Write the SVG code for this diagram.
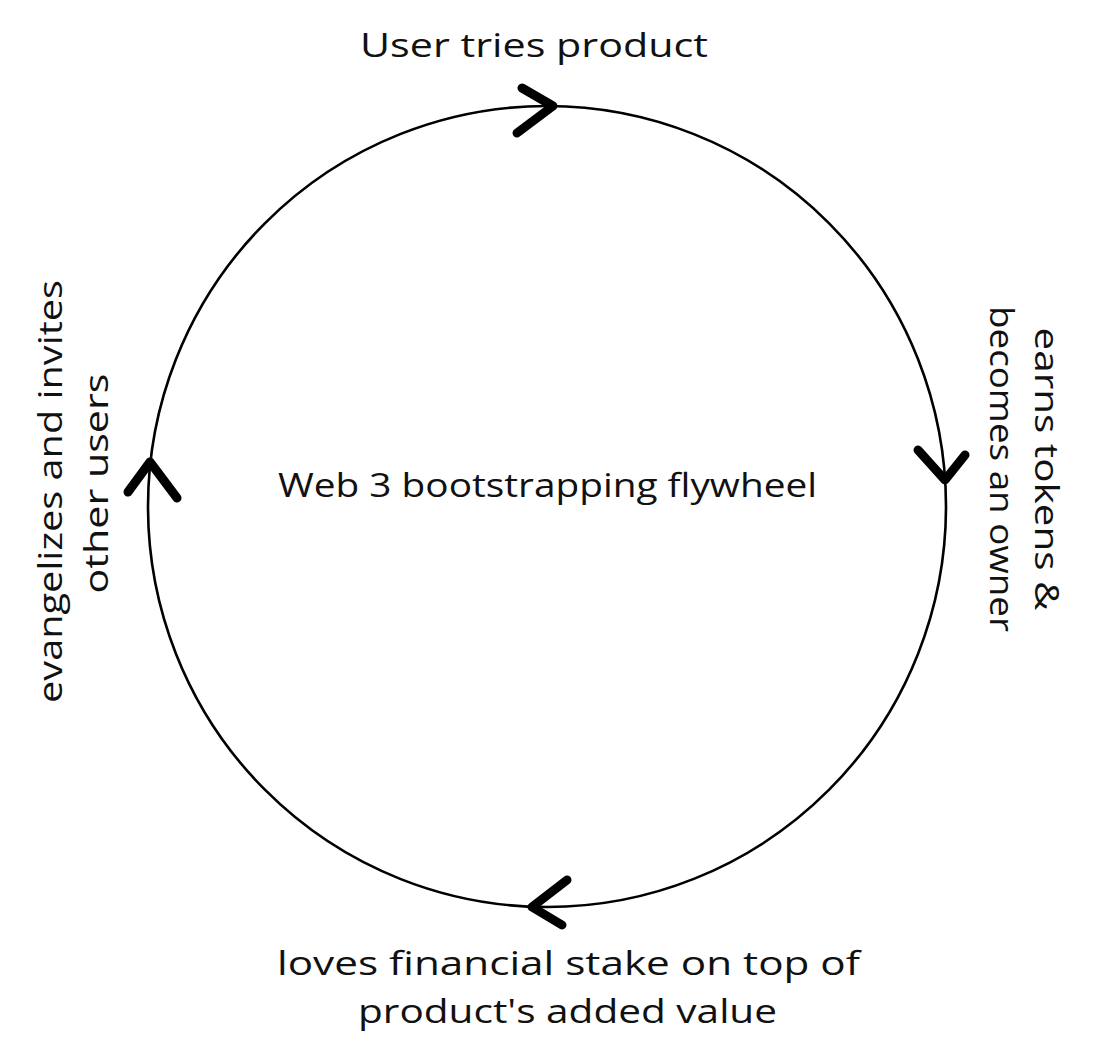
<svg xmlns="http://www.w3.org/2000/svg" width="1094" height="1055" viewBox="0 0 1094 1055">
<style>
.lbl{font-family:"Open Sans","Liberation Sans",sans-serif;font-size:32px;fill:#111111;text-anchor:middle}
.ring{fill:none;stroke:#000000;stroke-width:2.6}
.head{fill:none;stroke:#000000;stroke-width:9;stroke-linecap:round;stroke-linejoin:round}
</style>
<rect width="1094" height="1055" fill="#ffffff"/>
<g id="connectors">
<ellipse class="ring" cx="547" cy="506.5" rx="399" ry="400.5"/>
<polyline class="head" points="522,88 553,106 517,133"/>
<polyline class="head" points="918,450 945,480 965,455"/>
<polyline class="head" points="567,880 532,907 562,925"/>
<polyline class="head" points="128,492 150,462 177,498"/>
</g>
<g id="node-top">
<text class="lbl" x="534" y="57" textLength="348" lengthAdjust="spacingAndGlyphs">User tries product</text>
</g>
<g id="node-center">
<text class="lbl" x="547.5" y="497" textLength="539" lengthAdjust="spacingAndGlyphs">Web 3 bootstrapping flywheel</text>
</g>
<g id="node-right" transform="translate(1035,469) rotate(90)">
<text class="lbl" x="0" y="0" textLength="283" lengthAdjust="spacingAndGlyphs">earns tokens &amp;</text>
<text class="lbl" x="0" y="45" textLength="326" lengthAdjust="spacingAndGlyphs">becomes an owner</text>
</g>
<g id="node-bottom">
<text class="lbl" x="568.5" y="975" textLength="583" lengthAdjust="spacingAndGlyphs">loves financial stake on top of</text>
<text class="lbl" x="567.5" y="1023" textLength="419" lengthAdjust="spacingAndGlyphs">product's added value</text>
</g>
<g id="node-left" transform="translate(62,491.5) rotate(-90)">
<text class="lbl" x="0" y="0" textLength="423" lengthAdjust="spacingAndGlyphs">evangelizes and invites</text>
<text class="lbl" x="8" y="46" textLength="220" lengthAdjust="spacingAndGlyphs">other users</text>
</g>
</svg>
